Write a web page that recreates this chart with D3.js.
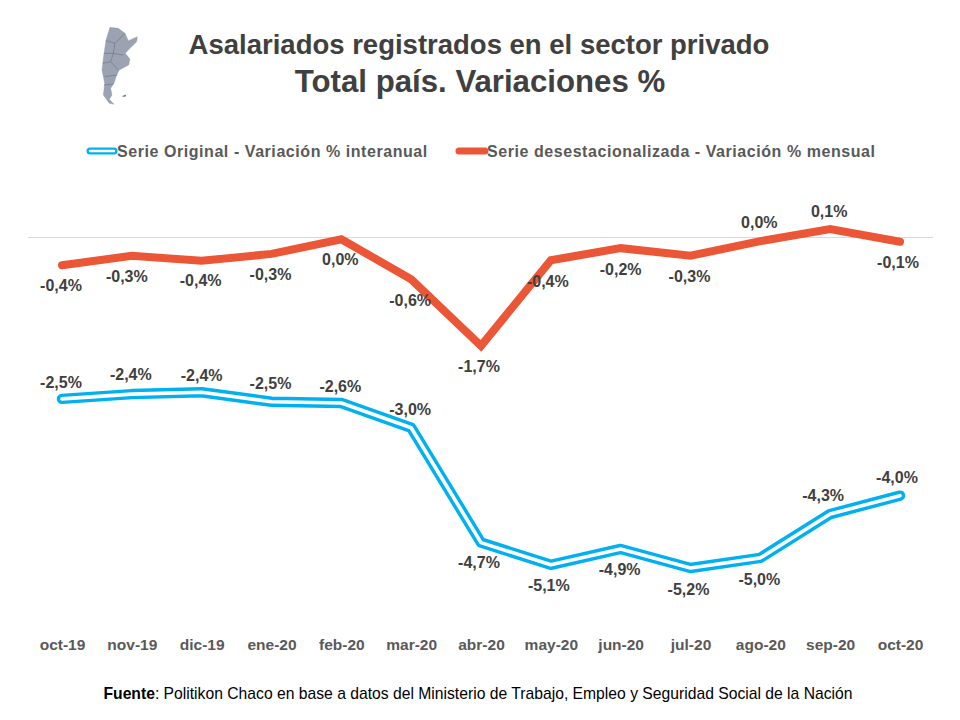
<!DOCTYPE html>
<html>
<head>
<meta charset="utf-8">
<script src="https://cdn.jsdelivr.net/npm/d3@7/dist/d3.min.js"></script>
<style>
  html, body { margin: 0; padding: 0; background: #fff; }
  text { font-family: "Liberation Sans", Arial, sans-serif; }
</style>
</head>
<body>
<div id="chart"></div>
<script>
// Chart data
const months = ['oct-19', 'nov-19', 'dic-19', 'ene-20', 'feb-20', 'mar-20', 'abr-20', 'may-20', 'jun-20', 'jul-20', 'ago-20', 'sep-20', 'oct-20'];
const originalValues = [-2.535, -2.46, -2.43, -2.58, -2.6, -2.99, -4.8, -5.15, -4.9, -5.2, -5.04, -4.35, -4.06];
const originalLabels = ['-2,5%', '-2,4%', '-2,4%', '-2,5%', '-2,6%', '-3,0%', '-4,7%', '-5,1%', '-4,9%', '-5,2%', '-5,0%', '-4,3%', '-4,0%'];
const seasonalValues = [-0.43, -0.28, -0.36, -0.25, -0.02, -0.65, -1.7, -0.35, -0.16, -0.28, -0.05, 0.14, -0.06];
const seasonalLabels = ['-0,4%', '-0,3%', '-0,4%', '-0,3%', '0,0%', '-0,6%', '-1,7%', '-0,4%', '-0,2%', '-0,3%', '0,0%', '0,1%', '-0,1%'];

// Label offsets from the point, in pixels (dx, dy to text centre)
const originalLabelPos = [[-1, -16], [-1, -20], [0, -17], [-1, -18], [-1, -17], [-1, -18], [-2, 20], [-2, 21], [-1, 20], [-2, 21], [-1, 22], [-7, -19], [-3, -18]];
const seasonalLabelPos = [[-1, 20], [-5, 21], [-1, 20], [-1, 21], [-1, 20], [-1, 21], [-2, 21], [-3, 21], [0, 21], [-1, 21], [-1, -19], [-1, -18], [-2, 21]];

const width = 960;
const height = 720;

const svg = d3.select('#chart')
  .append('svg')
  .attr('width', width)
  .attr('height', height)
  .style('display', 'block');

const x = d3.scalePoint().domain(months).range([62, 900]);
const y = d3.scaleLinear().domain([0, -5.2]).range([238, 568]);

// Titles
svg.append('text')
  .attr('x', 479).attr('y', 54)
  .attr('text-anchor', 'middle')
  .style('font-size', '27.5px').style('font-weight', 'bold').style('fill', '#404040')
  .text('Asalariados registrados en el sector privado');
svg.append('text')
  .attr('x', 480).attr('y', 92)
  .attr('text-anchor', 'middle')
  .style('font-size', '31.2px').style('font-weight', 'bold').style('fill', '#404040')
  .text('Total país. Variaciones %');

// Little map of Argentina next to the title
const map = svg.append('g').attr('transform', 'translate(90,20) scale(0.3333)');
map.append('path')
  .attr('d', 'M60,22 L85,25 L105,40 L115,62 L142,50 L140,65 L120,85 L106,100 L120,118 L116,135 L88,150 L80,165 L72,190 L62,205 L66,225 L58,238 L72,253 L58,250 L40,225 L44,190 L36,150 L42,100 L48,60 Z')
  .style('fill', '#9ba3b2').style('stroke', '#8b93a3').style('stroke-width', 1);
map.append('path')
  .attr('d', 'M48,62 L75,70 L105,40 M75,70 L70,100 L42,100 M70,100 L100,105 M70,100 L62,125 L38,130 M62,125 L85,150 M44,170 L82,165 M42,195 L70,192')
  .style('fill', 'none').style('stroke', '#6f7686').style('stroke-width', 2);
map.append('path').attr('d', 'M95,229 L108,224 L106,230 Z').style('fill', '#555');

// Legend
const legendY = 151;
svg.append('line')
  .attr('x1', 90).attr('x2', 114).attr('y1', legendY).attr('y2', legendY)
  .style('stroke', '#00b0f0').style('stroke-width', 7).style('stroke-linecap', 'round');
svg.append('line')
  .attr('x1', 90).attr('x2', 114).attr('y1', legendY).attr('y2', legendY)
  .style('stroke', '#fff').style('stroke-width', 2.4).style('stroke-linecap', 'round');
svg.append('line')
  .attr('x1', 459).attr('x2', 485).attr('y1', legendY).attr('y2', legendY)
  .style('stroke', '#eb5636').style('stroke-width', 7).style('stroke-linecap', 'round');
[['Serie Original - Variación % interanual', 117], ['Serie desestacionalizada - Variación % mensual', 487]].forEach(d => {
  svg.append('text')
    .attr('x', d[1]).attr('y', legendY + 6)
    .style('font-size', '16px').style('font-weight', 'bold').style('fill', '#595959')
    .style('letter-spacing', '0.56px')
    .text(d[0]);
});

// Zero line
svg.append('line')
  .attr('x1', 28).attr('x2', 933).attr('y1', 237.5).attr('y2', 237.5)
  .style('stroke', '#d9d9d9').style('stroke-width', 1);

// Month axis
const axis = svg.append('g')
  .attr('transform', 'translate(0,650)')
  .call(d3.axisBottom(x).tickSize(0).tickPadding(0));
axis.select('.domain').remove();
axis.selectAll('text')
  .attr('y', 0)
  .attr('dy', '0')
  .style('font-family', '"Liberation Sans", Arial, sans-serif')
  .style('font-size', '15.5px').style('font-weight', 'bold').style('fill', '#595959');

const lineGen = d3.line().x((d, i) => x(months[i])).y(d => y(d));

// Original series, a double stroke
svg.append('path').datum(originalValues).attr('d', lineGen)
  .style('fill', 'none').style('stroke', '#00b0f0').style('stroke-width', 10.5)
  .style('stroke-linecap', 'round').style('stroke-linejoin', 'round');
svg.append('path').datum(originalValues).attr('d', lineGen)
  .style('fill', 'none').style('stroke', '#fff').style('stroke-width', 3.6)
  .style('stroke-linecap', 'round').style('stroke-linejoin', 'round');

// Seasonally adjusted series
svg.append('path').datum(seasonalValues).attr('d', lineGen)
  .style('fill', 'none').style('stroke', '#eb5636').style('stroke-width', 8)
  .style('stroke-linecap', 'round').style('stroke-linejoin', 'miter');

// Data labels
function addLabels(values, labels, offsets) {
  svg.append('g').selectAll('text')
    .data(values)
    .enter()
    .append('text')
    .attr('x', (d, i) => x(months[i]) + offsets[i][0])
    .attr('y', (d, i) => y(d) + offsets[i][1])
    .attr('dy', '0.35em')
    .attr('text-anchor', 'middle')
    .style('font-size', '16px').style('font-weight', 'bold').style('fill', '#404040')
    .text((d, i) => labels[i]);
}
addLabels(originalValues, originalLabels, originalLabelPos);
addLabels(seasonalValues, seasonalLabels, seasonalLabelPos);

// Source
const source = svg.append('text')
  .attr('x', 478).attr('y', 699)
  .attr('text-anchor', 'middle')
  .style('font-size', '15.7px').style('fill', '#000');
source.append('tspan').style('font-weight', 'bold').text('Fuente');
source.append('tspan').text(': Politikon Chaco en base a datos del Ministerio de Trabajo, Empleo y Seguridad Social de la Nación');
</script>
</body>
</html>
